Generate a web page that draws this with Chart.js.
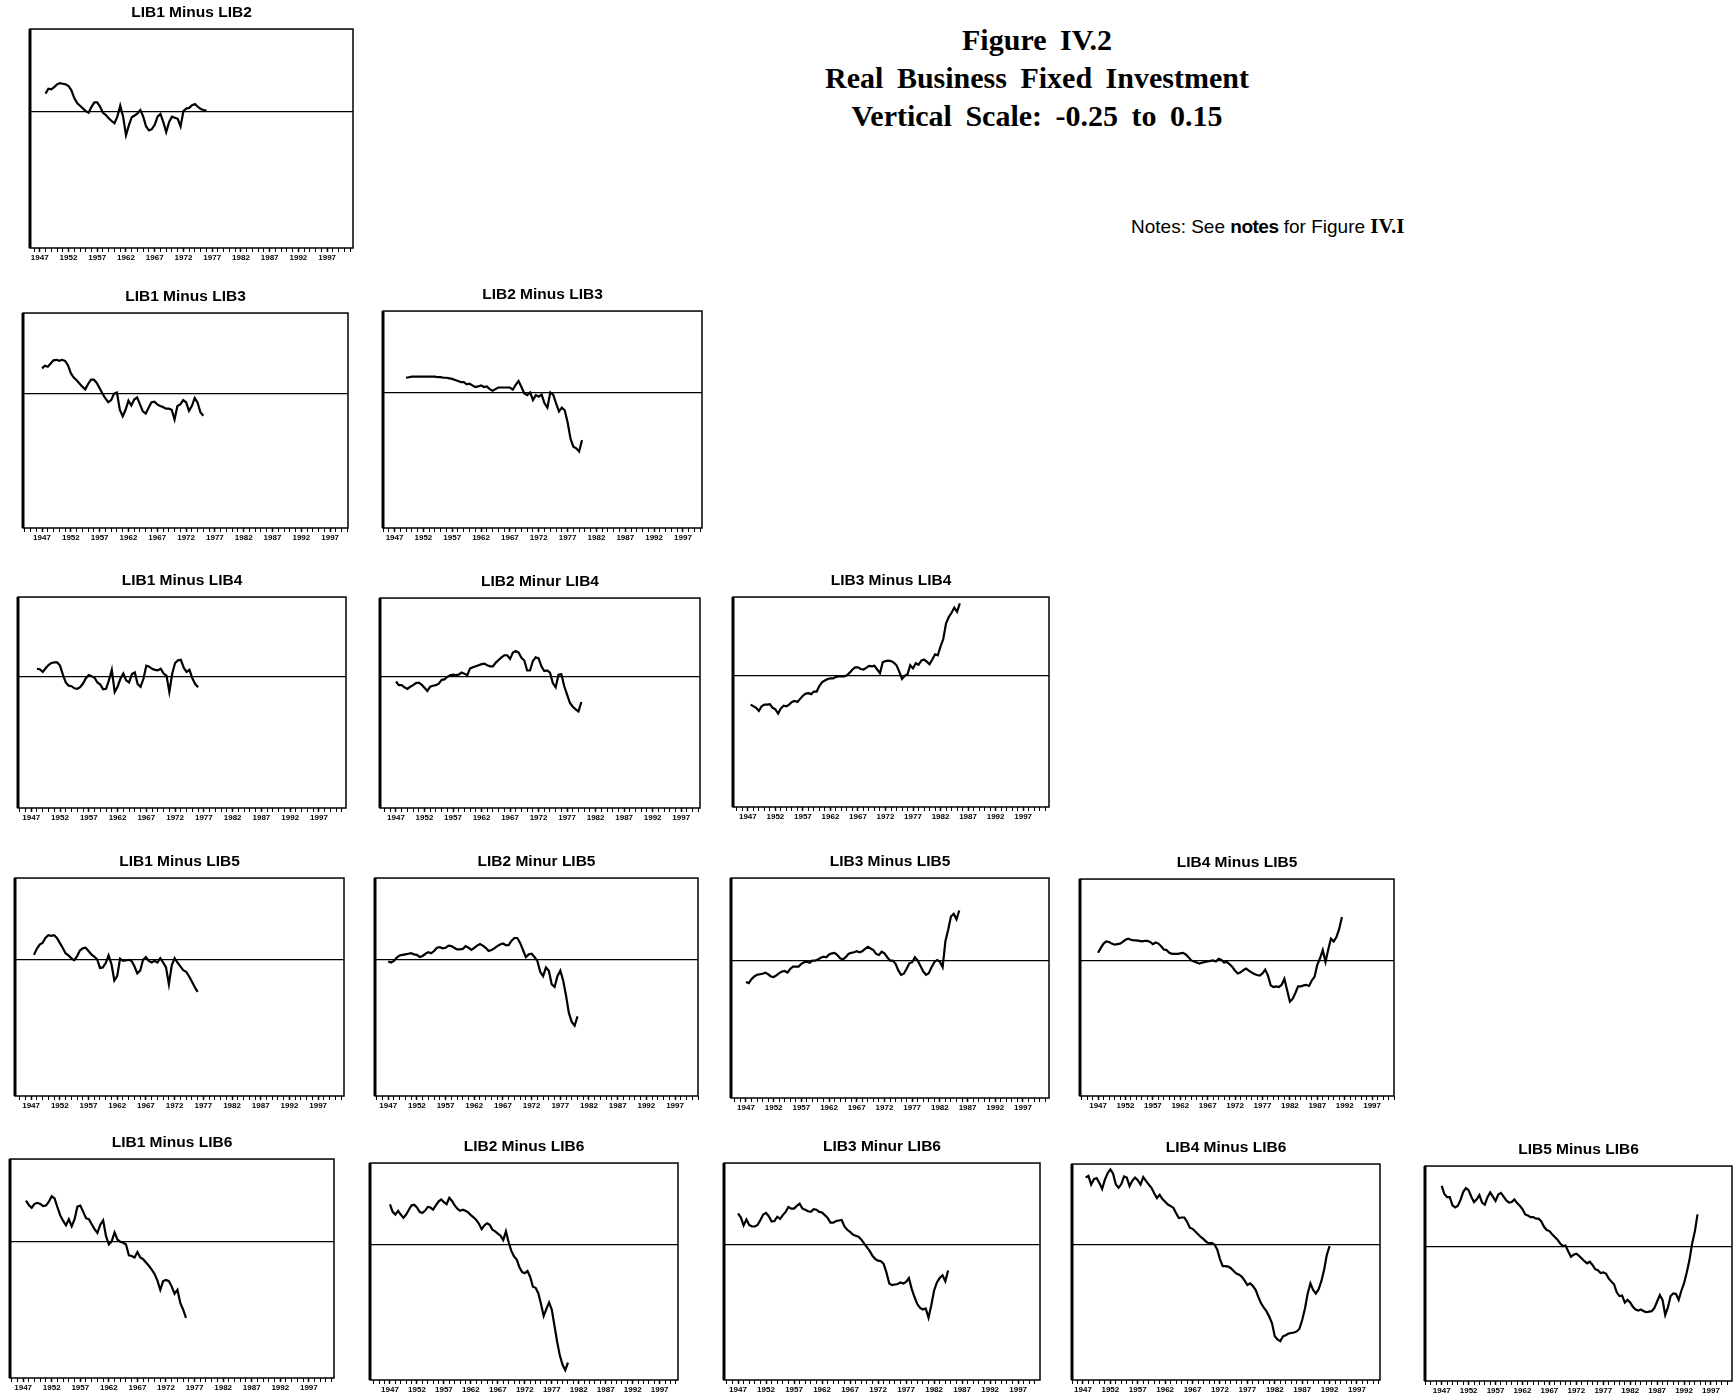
<!DOCTYPE html>
<html>
<head>
<meta charset="utf-8">
<script src="https://cdn.jsdelivr.net/npm/chart.js@4.4.0/dist/chart.umd.min.js"></script>
<style>
  body { margin: 0; background: #fff; width: 1734px; height: 1396px; position: relative; overflow: hidden; }
  canvas { position: absolute; }
  #fig { position: absolute; left: 737px; top: 21px; width: 600px; text-align: center;
         font: bold 30px "Liberation Serif", "Times New Roman", serif; line-height: 38px; word-spacing: 6px; color: #000; }
  #notes { position: absolute; left: 1131px; top: 215px; font: 19px "Liberation Sans", Arial, sans-serif; line-height: 22px; color: #000; white-space: nowrap; }
  #notes b { font-weight: bold; letter-spacing: -0.5px; }
  #notes span { font-family: "Liberation Serif", serif; font-weight: bold; font-size: 21px; }
</style>
</head>
<body>
<div id="fig">Figure IV.2<br>Real Business Fixed Investment<br>Vertical Scale: -0.25 to 0.15</div>
<div id="notes">Notes: See <b>notes</b> for Figure <span>IV.I</span></div>

<script>
// vertical scale shared by every panel
const yMin = -0.25;
const yMax = 0.15;

// x axis: one small tick per year, a label every five years
const labelYears = [1947, 1952, 1957, 1962, 1967, 1972, 1977, 1982, 1987, 1992, 1997];
const yearTicks = [1943, 1944, 1945, 1946, 1947, 1948, 1949, 1950, 1951, 1952, 1953, 1954, 1955, 1956,
  1957, 1958, 1959, 1960, 1961, 1962, 1963, 1964, 1965, 1966, 1967, 1968, 1969, 1970, 1971, 1972,
  1973, 1974, 1975, 1976, 1977, 1978, 1979, 1980, 1981, 1982, 1983, 1984, 1985, 1986, 1987, 1988,
  1989, 1990, 1991, 1992, 1993, 1994, 1995, 1996, 1997, 1998, 1999, 2000, 2001];

// series are read every half year
const STEP = 0.5;

const lib1m2Start = 1948.0;
const lib1m2 = [0.032,0.041,0.040,0.044,0.049,0.051,0.050,0.049,0.046,0.038,0.024,0.015,0.010,0.005,0.000,-0.003,
  0.008,0.016,0.016,0.008,-0.003,-0.007,-0.013,-0.018,-0.022,-0.010,0.010,-0.010,-0.044,-0.026,-0.011,-0.008,
  -0.004,0.002,-0.010,-0.028,-0.035,-0.033,-0.025,-0.010,-0.005,-0.020,-0.038,-0.020,-0.010,-0.012,-0.014,-0.028,
  0.000,0.005,0.006,0.011,0.013,0.008,0.004,0.002,0.001];

const lib1m3Start = 1947.0;
const lib1m3 = [0.047,0.052,0.050,0.056,0.062,0.063,0.061,0.063,0.061,0.053,0.038,0.030,0.025,0.019,0.013,0.008,
  0.018,0.026,0.026,0.020,0.010,0.000,-0.009,-0.016,-0.012,0.000,0.002,-0.030,-0.042,-0.030,-0.013,-0.022,
  -0.011,-0.007,-0.020,-0.033,-0.037,-0.026,-0.016,-0.015,-0.020,-0.023,-0.025,-0.028,-0.028,-0.030,-0.048,-0.023,
  -0.020,-0.012,-0.016,-0.032,-0.023,-0.008,-0.017,-0.035,-0.041];

const lib2m3Start = 1949.0;
const lib2m3 = [0.027,0.028,0.029,0.029,0.029,0.029,0.029,0.029,0.029,0.029,0.029,0.028,0.028,0.027,0.027,0.026,
  0.025,0.023,0.021,0.019,0.019,0.015,0.016,0.013,0.010,0.011,0.013,0.010,0.011,0.006,0.003,0.006,
  0.009,0.009,0.009,0.009,0.009,0.005,0.014,0.021,0.010,-0.002,-0.005,0.000,-0.014,-0.005,-0.008,-0.004,
  -0.020,-0.028,0.000,-0.004,-0.020,-0.035,-0.028,-0.033,-0.055,-0.085,-0.100,-0.103,-0.109,-0.088];

const lib1m4Start = 1948.0;
const lib1m4 = [0.014,0.013,0.008,0.015,0.021,0.025,0.026,0.026,0.020,0.003,-0.012,-0.018,-0.019,-0.023,-0.024,-0.021,
  -0.014,-0.004,0.002,0.000,-0.003,-0.012,-0.016,-0.025,-0.024,-0.008,0.012,-0.030,-0.020,-0.005,0.005,-0.008,
  -0.012,0.004,0.007,-0.015,-0.020,-0.005,0.020,0.018,0.014,0.012,0.011,0.014,0.005,0.001,-0.030,0.005,
  0.025,0.030,0.031,0.016,0.008,0.012,-0.004,-0.015,-0.021];

const lib2m4Start = 1947.0;
const lib2m4 = [-0.009,-0.016,-0.016,-0.020,-0.023,-0.019,-0.016,-0.012,-0.011,-0.015,-0.021,-0.027,-0.019,-0.017,-0.016,-0.013,
  -0.006,-0.005,0.000,0.003,0.004,0.003,0.004,0.008,0.006,0.003,0.016,0.018,0.020,0.022,0.024,0.025,
  0.022,0.020,0.020,0.027,0.032,0.037,0.041,0.041,0.034,0.046,0.049,0.046,0.036,0.031,0.012,0.012,
  0.030,0.037,0.035,0.020,0.011,0.012,0.008,-0.012,-0.020,0.004,0.005,-0.018,-0.034,-0.050,-0.057,-0.062,
  -0.066,-0.048];

const lib3m4Start = 1947.5;
const lib3m4 = [-0.055,-0.058,-0.061,-0.067,-0.058,-0.055,-0.055,-0.054,-0.061,-0.064,-0.072,-0.062,-0.057,-0.058,-0.055,-0.050,
  -0.048,-0.050,-0.044,-0.038,-0.034,-0.033,-0.035,-0.030,-0.030,-0.019,-0.012,-0.009,-0.006,-0.005,-0.005,-0.002,
  -0.001,-0.001,-0.001,0.001,0.006,0.012,0.016,0.016,0.013,0.012,0.015,0.019,0.018,0.019,0.012,0.005,
  0.026,0.028,0.029,0.028,0.025,0.020,0.008,-0.006,0.000,0.003,0.020,0.014,0.024,0.021,0.029,0.031,
  0.027,0.022,0.031,0.041,0.039,0.056,0.070,0.100,0.112,0.120,0.130,0.122,0.138];

const lib1m5Start = 1947.5;
const lib1m5 = [0.009,0.020,0.028,0.031,0.040,0.045,0.044,0.045,0.040,0.031,0.022,0.012,0.008,0.003,-0.001,0.006,
  0.017,0.021,0.022,0.016,0.010,0.006,0.001,-0.015,-0.014,-0.006,0.008,-0.008,-0.038,-0.030,0.002,-0.002,
  -0.001,0.000,-0.002,-0.012,-0.025,-0.020,0.000,0.005,-0.002,-0.005,-0.002,-0.005,0.003,-0.005,-0.014,-0.045,
  -0.010,0.003,-0.005,-0.012,-0.019,-0.022,-0.030,-0.040,-0.050,-0.059];

const lib2m5Start = 1947.0;
const lib2m5 = [-0.003,-0.005,-0.002,0.004,0.008,0.009,0.010,0.011,0.012,0.010,0.009,0.005,0.007,0.011,0.014,0.012,
  0.016,0.022,0.023,0.021,0.022,0.026,0.025,0.022,0.019,0.019,0.020,0.025,0.022,0.018,0.022,0.026,
  0.029,0.026,0.022,0.016,0.018,0.021,0.025,0.028,0.030,0.027,0.027,0.035,0.040,0.040,0.031,0.018,
  0.005,0.010,0.011,0.005,-0.002,-0.022,-0.030,-0.014,-0.020,-0.045,-0.050,-0.030,-0.020,-0.038,-0.066,-0.098,
  -0.114,-0.121,-0.104];

const lib3m5Start = 1947.0;
const lib3m5 = [-0.039,-0.041,-0.034,-0.029,-0.026,-0.025,-0.024,-0.022,-0.025,-0.029,-0.030,-0.027,-0.023,-0.020,-0.019,-0.022,
  -0.015,-0.011,-0.011,-0.011,-0.006,-0.003,-0.002,-0.004,0.000,0.000,0.002,0.005,0.007,0.006,0.011,0.013,
  0.014,0.010,0.004,0.002,0.006,0.012,0.014,0.015,0.017,0.015,0.017,0.021,0.025,0.022,0.019,0.012,
  0.010,0.016,0.013,0.006,0.000,0.000,-0.006,-0.018,-0.026,-0.024,-0.015,-0.005,-0.003,0.006,0.000,-0.010,
  -0.020,-0.026,-0.023,-0.012,-0.003,0.001,-0.002,-0.012,0.035,0.056,0.080,0.085,0.075,0.091];

const lib4m5Start = 1947.0;
const lib4m5 = [0.014,0.023,0.031,0.035,0.034,0.031,0.029,0.030,0.031,0.034,0.038,0.040,0.038,0.037,0.037,0.036,
  0.035,0.036,0.036,0.034,0.030,0.033,0.031,0.026,0.020,0.019,0.014,0.012,0.012,0.012,0.013,0.014,
  0.011,0.006,0.000,-0.002,-0.004,-0.006,-0.004,-0.003,-0.002,-0.001,0.000,-0.002,0.003,0.001,-0.004,-0.003,
  -0.007,-0.012,-0.019,-0.024,-0.022,-0.018,-0.015,-0.019,-0.022,-0.025,-0.027,-0.028,-0.024,-0.017,-0.028,-0.046,
  -0.049,-0.048,-0.049,-0.045,-0.034,-0.055,-0.076,-0.071,-0.060,-0.048,-0.048,-0.046,-0.045,-0.047,-0.037,-0.030,
  -0.008,0.004,0.019,-0.003,0.020,0.040,0.035,0.043,0.058,0.080];

const lib1m6Start = 1947.5;
const lib1m6 = [0.074,0.066,0.061,0.068,0.070,0.068,0.064,0.065,0.072,0.082,0.078,0.062,0.047,0.037,0.029,0.040,
  0.027,0.040,0.063,0.065,0.054,0.042,0.040,0.031,0.022,0.015,0.030,0.038,0.009,-0.006,0.000,0.016,
  0.003,-0.001,-0.003,-0.006,-0.026,-0.027,-0.030,-0.020,-0.030,-0.033,-0.039,-0.045,-0.052,-0.060,-0.072,-0.089,
  -0.073,-0.071,-0.073,-0.083,-0.096,-0.089,-0.113,-0.125,-0.140];

const lib2m6Start = 1947.0;
const lib2m6 = [0.074,0.060,0.055,0.062,0.055,0.049,0.055,0.064,0.072,0.073,0.068,0.060,0.058,0.062,0.069,0.068,
  0.064,0.072,0.079,0.083,0.078,0.074,0.086,0.080,0.072,0.066,0.062,0.064,0.062,0.059,0.054,0.050,
  0.045,0.038,0.028,0.035,0.039,0.036,0.027,0.024,0.020,0.016,0.008,0.024,0.004,-0.012,-0.022,-0.028,
  -0.042,-0.051,-0.053,-0.049,-0.060,-0.078,-0.080,-0.090,-0.110,-0.132,-0.119,-0.107,-0.120,-0.150,-0.180,-0.205,
  -0.222,-0.232,-0.218];

const lib3m6Start = 1947.0;
const lib3m6 = [0.057,0.050,0.035,0.046,0.036,0.033,0.033,0.036,0.045,0.055,0.058,0.052,0.042,0.043,0.051,0.047,
  0.054,0.060,0.069,0.066,0.066,0.071,0.075,0.066,0.064,0.061,0.060,0.065,0.064,0.060,0.059,0.054,
  0.049,0.040,0.040,0.043,0.044,0.045,0.033,0.027,0.023,0.018,0.016,0.014,0.009,0.002,-0.005,-0.012,
  -0.021,-0.027,-0.030,-0.031,-0.036,-0.052,-0.072,-0.075,-0.074,-0.073,-0.070,-0.072,-0.069,-0.062,-0.082,-0.097,
  -0.110,-0.117,-0.120,-0.118,-0.135,-0.112,-0.085,-0.070,-0.062,-0.057,-0.068,-0.048];

const lib4m6Start = 1947.5;
const lib4m6 = [0.125,0.128,0.112,0.122,0.124,0.115,0.104,0.121,0.133,0.140,0.132,0.112,0.106,0.113,0.127,0.125,
  0.109,0.119,0.125,0.120,0.112,0.126,0.119,0.112,0.106,0.096,0.087,0.093,0.085,0.080,0.075,0.072,
  0.069,0.059,0.050,0.051,0.051,0.043,0.032,0.030,0.025,0.020,0.015,0.011,0.006,0.003,0.004,0.001,
  -0.008,-0.026,-0.039,-0.039,-0.040,-0.043,-0.048,-0.053,-0.055,-0.059,-0.066,-0.074,-0.071,-0.076,-0.083,-0.096,
  -0.108,-0.116,-0.123,-0.133,-0.145,-0.169,-0.175,-0.178,-0.169,-0.167,-0.164,-0.163,-0.162,-0.160,-0.155,-0.139,
  -0.118,-0.090,-0.071,-0.083,-0.090,-0.082,-0.067,-0.046,-0.018,-0.002];

const lib5m6Start = 1947.0;
const lib5m6 = [0.113,0.098,0.092,0.092,0.077,0.073,0.076,0.087,0.102,0.109,0.105,0.093,0.083,0.088,0.096,0.082,
  0.078,0.092,0.101,0.093,0.085,0.097,0.100,0.093,0.086,0.082,0.083,0.088,0.081,0.076,0.070,0.060,
  0.058,0.055,0.055,0.052,0.052,0.047,0.037,0.031,0.029,0.023,0.018,0.013,0.006,0.001,0.002,-0.009,
  -0.019,-0.015,-0.013,-0.017,-0.022,-0.027,-0.031,-0.028,-0.034,-0.042,-0.044,-0.049,-0.048,-0.050,-0.059,-0.065,
  -0.070,-0.085,-0.092,-0.091,-0.104,-0.099,-0.104,-0.112,-0.117,-0.119,-0.117,-0.120,-0.122,-0.121,-0.120,-0.114,
  -0.102,-0.090,-0.099,-0.127,-0.113,-0.092,-0.087,-0.088,-0.099,-0.082,-0.068,-0.048,-0.025,0.006,0.028,0.060];

// panel layout: frame box on the page [left, top, right, bottom] and the year span it covers
const panels = [
  { title: 'LIB1 Minus LIB2', start: lib1m2Start, values: lib1m2, box: [30, 29, 353, 248],     years: [1945.3, 2001.5] },
  { title: 'LIB1 Minus LIB3', start: lib1m3Start, values: lib1m3, box: [23, 313, 348, 528],    years: [1943.7, 2000.1] },
  { title: 'LIB2 Minus LIB3', start: lib2m3Start, values: lib2m3, box: [383, 311, 702, 528],   years: [1945.0, 2000.3] },
  { title: 'LIB1 Minus LIB4', start: lib1m4Start, values: lib1m4, box: [18, 597, 346, 808],    years: [1944.7, 2001.7] },
  { title: 'LIB2 Minur LIB4', start: lib2m4Start, values: lib2m4, box: [380, 598, 700, 808],   years: [1944.2, 2000.3] },
  { title: 'LIB3 Minus LIB4', start: lib3m4Start, values: lib3m4, box: [733, 597, 1049, 807],  years: [1944.3, 2001.7] },
  { title: 'LIB1 Minus LIB5', start: lib1m5Start, values: lib1m5, box: [15, 878, 344, 1096],   years: [1944.2, 2001.5] },
  { title: 'LIB2 Minur LIB5', start: lib2m5Start, values: lib2m5, box: [375, 878, 698, 1096],  years: [1944.7, 2001.0] },
  { title: 'LIB3 Minus LIB5', start: lib3m5Start, values: lib3m5, box: [731, 878, 1049, 1098], years: [1944.3, 2001.7] },
  { title: 'LIB4 Minus LIB5', start: lib4m5Start, values: lib4m5, box: [1080, 879, 1394, 1096], years: [1943.7, 2001.0] },
  { title: 'LIB1 Minus LIB6', start: lib1m6Start, values: lib1m6, box: [10, 1159, 334, 1378],  years: [1944.7, 2001.4] },
  { title: 'LIB2 Minus LIB6', start: lib2m6Start, values: lib2m6, box: [370, 1163, 678, 1380], years: [1943.3, 2000.4] },
  { title: 'LIB3 Minur LIB6', start: lib3m6Start, values: lib3m6, box: [724, 1163, 1040, 1380], years: [1944.5, 2000.9] },
  { title: 'LIB4 Minus LIB6', start: lib4m6Start, values: lib4m6, box: [1072, 1164, 1380, 1380], years: [1945.0, 2001.2] },
  { title: 'LIB5 Minus LIB6', start: lib5m6Start, values: lib5m6, box: [1425, 1166, 1732, 1381], years: [1943.9, 2000.9] }
];

const TITLE_H = 26;   // title block above the frame
const AXIS_H = 15;    // tick marks + year labels below the frame
const PAD = 2;

// box around the plot area, heavier on the left like the scanned panels
const framePlugin = {
  id: 'frame',
  afterDraw(chart) {
    const { ctx, chartArea: a } = chart;
    ctx.save();
    ctx.strokeStyle = '#000';
    ctx.lineWidth = 1.5;
    ctx.strokeRect(a.left, a.top, a.right - a.left, a.bottom - a.top);
    ctx.lineWidth = 3;
    ctx.beginPath();
    ctx.moveTo(a.left, a.top);
    ctx.lineTo(a.left, a.bottom);
    ctx.stroke();
    ctx.restore();
  }
};

function makePanel(p) {
  const [l, t, r, b] = p.box;
  const canvas = document.createElement('canvas');
  canvas.width = r - l + PAD * 2;
  canvas.height = TITLE_H + (b - t) + AXIS_H;
  canvas.style.left = (l - PAD) + 'px';
  canvas.style.top = (t - TITLE_H) + 'px';
  document.body.appendChild(canvas);

  const points = p.values.map((v, i) => ({ x: p.start + i * STEP, y: v }));

  return new Chart(canvas.getContext('2d'), {
    type: 'line',
    data: {
      datasets: [{
        data: points,
        borderColor: '#000',
        borderWidth: 2.2,
        pointRadius: 0,
        tension: 0,
        fill: false
      }]
    },
    options: {
      responsive: false,
      animation: false,
      events: [],
      layout: { padding: { left: PAD, right: PAD, top: 0, bottom: 0 } },
      plugins: {
        legend: { display: false },
        tooltip: { enabled: false },
        title: {
          display: true,
          text: p.title,
          color: '#000',
          font: { family: '"Liberation Sans", Arial, sans-serif', size: 15.5, weight: 'bold', lineHeight: 1.1 },
          padding: { top: 1, bottom: 8 }
        }
      },
      scales: {
        x: {
          type: 'linear',
          min: p.years[0],
          max: p.years[1],
          afterBuildTicks: s => {
            s.ticks = yearTicks.filter(v => v >= s.min && v <= s.max).map(v => ({ value: v }));
          },
          afterFit: s => { s.height = AXIS_H; },
          ticks: {
            autoSkip: false,
            maxRotation: 0,
            padding: 1,
            color: '#000',
            font: { family: '"Liberation Sans Narrow", "Arial Narrow", "Liberation Sans", sans-serif', size: 8, weight: 'bold' },
            callback: v => (labelYears.includes(v) ? String(v) : '')
          },
          grid: {
            drawOnChartArea: false,
            drawTicks: true,
            tickLength: 4,
            color: '#000',
            tickWidth: ctx => (ctx.tick && labelYears.includes(ctx.tick.value) ? 1.5 : 1)
          },
          border: { display: false }
        },
        y: {
          min: yMin,
          max: yMax,
          afterBuildTicks: s => { s.ticks = [{ value: 0 }]; },
          afterFit: s => { s.width = 0; },
          ticks: { display: false },
          grid: { drawTicks: false, color: '#000', lineWidth: 1.2 },
          border: { display: false }
        }
      }
    },
    plugins: [framePlugin]
  });
}

panels.forEach(makePanel);
</script>
</body>
</html>
